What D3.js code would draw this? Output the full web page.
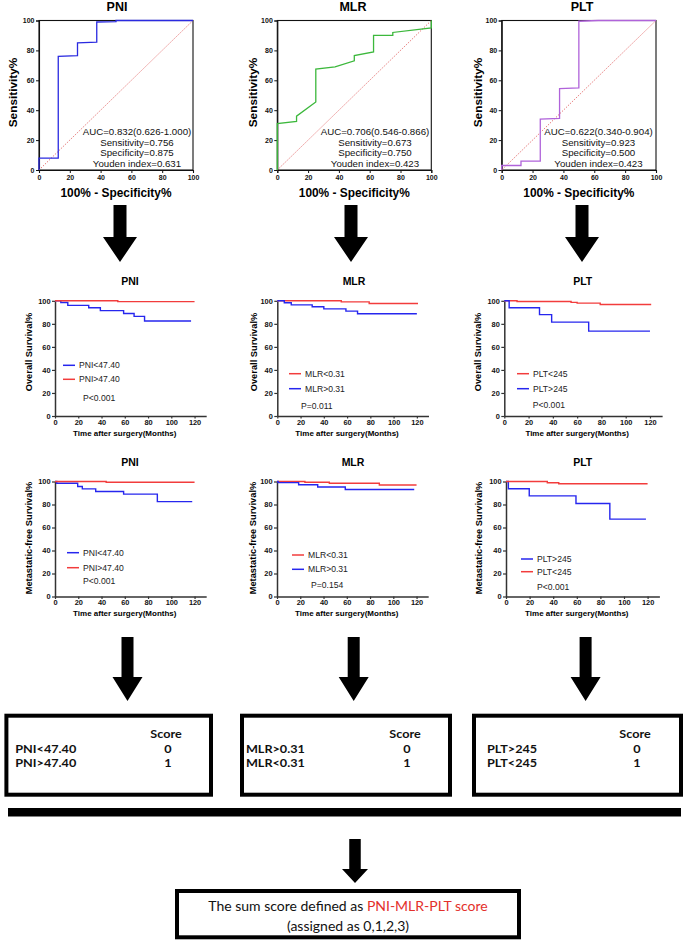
<!DOCTYPE html>
<html><head><meta charset="utf-8">
<script src="https://cdn.jsdelivr.net/npm/d3@7"></script>
<style>body{margin:0;background:#fff}svg{display:block}</style>
</head><body>
<script>
// ---------------- DATA ----------------
const markers = ["PNI", "MLR", "PLT"];
const rocTicks = [0, 20, 40, 60, 80, 100];
const rocPNI = [[0,0],[0,8],[12.5,8],[12.5,76],[25,76.5],[25,85],[37.5,85.5],[37.5,99],[50,99.3],[50,100],[100,100]];
const rocMLR = [[0,0],[0,31],[12.5,32.5],[12.5,36],[25,45.5],[25,67.5],[37.5,69],[50,73],[50,76.5],[62.5,79],[62.5,90],[75,90],[75,92],[100,95],[100,100]];
const rocPLT = [[0,0],[0,3],[12.5,3],[12.5,6],[25,6],[25,34],[37.5,34.5],[37.5,54.5],[50,55],[50,99.5],[62.5,100],[100,100]];
const rocStatsPNI = ["AUC=0.832(0.626-1.000)", "Sensitivity=0.756", "Specificity=0.875", "Youden index=0.631"];
const rocStatsMLR = ["AUC=0.706(0.546-0.866)", "Sensitivity=0.673", "Specificity=0.750", "Youden index=0.423"];
const rocStatsPLT = ["AUC=0.622(0.340-0.904)", "Sensitivity=0.923", "Specificity=0.500", "Youden index=0.423"];

const kmTicksX = [0, 20, 40, 60, 80, 100, 120];
const kmTicksY = [0, 20, 40, 60, 80, 100];
// Overall survival (time in months, survival %)
const osPNIlow  = [[0,100],[5,98.5],[11,96],[29,94],[39,91.5],[59,89],[68,86.5],[77,82.5],[117,82.5]];
const osPNIhigh = [[0,100],[54,99.3],[120,99.3]];
const osMLRlow  = [[0,100],[55,99.1],[79,97.7],[121,97.7]];
const osMLRhigh = [[0,100],[6,98.3],[12,96.5],[30,94.8],[40,93],[59,91],[69,88.8],[120,88.8]];
const osPLTlow  = [[0,100],[10.5,99.4],[55,98.6],[60,98],[79,96.8],[121,96.8]];
const osPLThigh = [[0,100],[4,94],[29,88],[39,81.5],[69.5,73.7],[120,73.7]];
// Metastatic-free survival
const mfsPNIlow  = [[0,100],[1.5,98.5],[19.5,95.6],[23.5,93.6],[35,91.3],[59,89],[88,82.5],[118,82.5]];
const mfsPNIhigh = [[0,100],[44,99.4],[120,99.4]];
const mfsMLRlow  = [[0,100],[24,99.4],[45,98.5],[88,97],[120,97]];
const mfsMLRhigh = [[0,100],[1,99],[18.6,97.2],[35,95.2],[58.7,93.1],[118,93.1]];
const mfsPLTlow  = [[0,100],[35,98.9],[44.7,98],[120,98]];
const mfsPLThigh = [[0,100],[2,93.7],[19.7,87.5],[59.3,80.9],[88,67.3],[118.6,67.3]];

const osLegendPNI = ["PNI<47.40", "PNI>47.40"];
const osLegendMLR = ["MLR<0.31", "MLR>0.31"];
const osLegendPLT = ["PLT<245", "PLT>245"];
const mfsLegendPNI = ["PNI<47.40", "PNI>47.40"];
const mfsLegendMLR = ["MLR<0.31", "MLR>0.31"];
const mfsLegendPLT = ["PLT>245", "PLT<245"];
const osPvalues = ["P<0.001", "P=0.011", "P<0.001"];
const mfsPvalues = ["P<0.001", "P=0.154", "P<0.001"];

const scoreRowsPNI = ["PNI<47.40", "PNI>47.40"];
const scoreRowsMLR = ["MLR>0.31", "MLR<0.31"];
const scoreRowsPLT = ["PLT>245", "PLT<245"];
const scoreValues = ["0", "1"];

// ---------------- DRAWING ----------------
const W = 685, H = 943;
const svg = d3.select("body").append("svg").attr("width", W).attr("height", H);
const FONT = "'Liberation Sans', Arial, sans-serif";
const BLUE = "#2626ee", RED = "#f23c3c";

// ROC panels
const rocLayout = [
  {x0: 39, x1: 193, title: 117, ylab: 13, stat: 137, data: rocPNI, color: "#2a2ae0", stats: rocStatsPNI},
  {x0: 277.3, x1: 431.3, title: 353, ylab: 253, stat: 375, data: rocMLR, color: "#3cb83c", stats: rocStatsMLR},
  {x0: 501.7, x1: 656, title: 582, ylab: 477.7, stat: 598.5, data: rocPLT, color: "#b063da", stats: rocStatsPLT}
];
rocLayout.forEach((p, i) => {
  const x = d3.scaleLinear().domain([0, 100]).range([p.x0, p.x1]);
  const y = d3.scaleLinear().domain([0, 100]).range([170, 20.5]);
  const g = svg.append("g");
  g.append("rect").attr("x", p.x0).attr("y", 20.5).attr("width", p.x1 - p.x0).attr("height", 149.5)
    .attr("fill", "none").attr("stroke", "#111").attr("stroke-width", 1.1);
  const ax = g.append("g").attr("transform", `translate(0,170)`)
    .call(d3.axisBottom(x).tickValues(rocTicks).tickSize(3).tickPadding(2));
  const ay = g.append("g").attr("transform", `translate(${p.x0},0)`)
    .call(d3.axisLeft(y).tickValues(rocTicks).tickSize(3).tickPadding(1.5));
  [ax, ay].forEach(a => {
    a.select(".domain").attr("stroke", "#111").attr("stroke-width", 1.1);
    a.selectAll("line").attr("stroke", "#111");
    a.selectAll("text").attr("font-family", FONT).attr("font-size", 7).attr("font-weight", "bold").attr("fill", "#111");
  });
  g.append("line").attr("x1", x(0)).attr("y1", y(0)).attr("x2", x(100)).attr("y2", y(100))
    .attr("stroke", "#e26a6a").attr("stroke-width", 0.9).attr("stroke-dasharray", "1.4,1.4");
  g.append("path").datum(p.data)
    .attr("d", d3.line().x(d => x(d[0])).y(d => y(d[1])))
    .attr("fill", "none").attr("stroke", p.color).attr("stroke-width", 1.3);
  g.append("text").attr("x", p.title).attr("y", 11).attr("text-anchor", "middle")
    .attr("font-family", FONT).attr("font-weight", "bold").attr("font-size", 12.5).text(markers[i]);
  g.append("text").attr("transform", `translate(${p.ylab + 4},92.5) rotate(-90)`).attr("text-anchor", "middle")
    .attr("font-family", FONT).attr("font-weight", "bold").attr("font-size", 11.8).text("Sensitivity%");
  g.append("text").attr("x", (p.x0 + p.x1) / 2).attr("y", 197).attr("text-anchor", "middle")
    .attr("font-family", FONT).attr("font-weight", "bold").attr("font-size", 11.9).text("100% - Specificity%");
  p.stats.forEach((s, j) => {
    g.append("text").attr("x", p.stat).attr("y", 135 + j * 10.6).attr("text-anchor", "middle")
      .attr("font-family", FONT).attr("font-size", 9.7).attr("fill", "#111").text(s);
  });
});

// Arrows
function arrow(cx, top, headTop, tip, shaftW, headW) {
  const pts = [[cx - shaftW/2, top], [cx + shaftW/2, top], [cx + shaftW/2, headTop], [cx + headW/2, headTop],
               [cx, tip], [cx - headW/2, headTop], [cx - shaftW/2, headTop]];
  svg.append("path").attr("d", d3.line()(pts) + "Z").attr("fill", "#000");
}
[120, 351, 582].forEach(cx => arrow(cx, 205, 237, 262, 13, 34));
[127.5, 353.7, 585.6].forEach(cx => arrow(cx, 637, 677, 701, 12, 30));
arrow(355, 839, 869, 883, 11.5, 26);

// KM panels
const kmRows = [
  {yTop: 300.8, yBot: 416, titleY: 285, ylabel: "Overall Survival%", ylabY: 352,
   panels: [
     {x0: 55, pxm: 1.163, title: 130, ylab: 28, series: [[osPNIlow, BLUE], [osPNIhigh, RED]],
      legend: osLegendPNI, legColors: [BLUE, RED], legX: 63, legY: [365.3, 379.3], pX: 83, pY: 401, p: osPvalues[0]},
     {x0: 277.3, pxm: 1.163, title: 354, ylab: 253, series: [[osMLRlow, RED], [osMLRhigh, BLUE]],
      legend: osLegendMLR, legColors: [RED, BLUE], legX: 289, legY: [373.7, 388.7], pX: 301, pY: 409, p: osPvalues[1]},
     {x0: 504.3, pxm: 1.214, title: 582.7, ylab: 477, series: [[osPLTlow, RED], [osPLThigh, BLUE]],
      legend: osLegendPLT, legColors: [RED, BLUE], legX: 517, legY: [373.7, 388.7], pX: 532.7, pY: 408, p: osPvalues[2]}
   ]},
  {yTop: 481.5, yBot: 596.5, titleY: 465.5, ylabel: "Metastatic-free Survival%", ylabY: 538,
   panels: [
     {x0: 55, pxm: 1.163, title: 130, ylab: 28, series: [[mfsPNIlow, BLUE], [mfsPNIhigh, RED]],
      legend: mfsLegendPNI, legColors: [BLUE, RED], legX: 67, legY: [552.7, 567.7], pX: 83, pY: 584, p: mfsPvalues[0]},
     {x0: 277, pxm: 1.163, title: 353, ylab: 252, series: [[mfsMLRlow, RED], [mfsMLRhigh, BLUE]],
      legend: mfsLegendMLR, legColors: [RED, BLUE], legX: 292, legY: [555, 569.3], pX: 311, pY: 588, p: mfsPvalues[1]},
     {x0: 506, pxm: 1.18, title: 582.7, ylab: 478, series: [[mfsPLThigh, BLUE], [mfsPLTlow, RED]],
      legend: mfsLegendPLT, legColors: [BLUE, RED], legX: 521, legY: [559, 571.7], pX: 537, pY: 590, p: mfsPvalues[2]}
   ]}
];
kmRows.forEach(row => {
  row.panels.forEach((p, i) => {
    const x = d3.scaleLinear().domain([0, 130]).range([p.x0, p.x0 + 130 * p.pxm]);
    const y = d3.scaleLinear().domain([0, 100]).range([row.yBot, row.yTop]);
    const g = svg.append("g");
    const ax = g.append("g").attr("transform", `translate(0,${row.yBot})`)
      .call(d3.axisBottom(x).tickValues(kmTicksX).tickSize(2.5).tickPadding(1).tickSizeOuter(0));
    const ay = g.append("g").attr("transform", `translate(${p.x0},0)`)
      .call(d3.axisLeft(y).tickValues(kmTicksY).tickSize(3).tickPadding(1.5).tickSizeOuter(0));
    [ax, ay].forEach(a => {
      a.select(".domain").attr("stroke", "#333").attr("stroke-width", 1.5);
      a.selectAll("line").attr("stroke", "#333").attr("stroke-width", 1.2);
      a.selectAll("text").attr("font-family", FONT).attr("font-size", 7.4).attr("font-weight", "bold").attr("fill", "#111");
    });
    p.series.forEach(([d, c]) => {
      g.append("path").datum(d)
        .attr("d", d3.line().curve(d3.curveStepAfter).x(v => x(v[0])).y(v => y(v[1])))
        .attr("fill", "none").attr("stroke", c).attr("stroke-width", 1.4);
    });
    g.append("text").attr("x", p.title).attr("y", row.titleY).attr("text-anchor", "middle")
      .attr("font-family", FONT).attr("font-weight", "bold").attr("font-size", 10.5).text(markers[i]);
    g.append("text").attr("transform", `translate(${p.ylab + 3.5},${row.ylabY}) rotate(-90)`).attr("text-anchor", "middle")
      .attr("font-family", FONT).attr("font-weight", "bold").attr("font-size", 9.3).text(row.ylabel);
    g.append("text").attr("x", x(60)).attr("y", row.yBot + 19.5).attr("text-anchor", "middle")
      .attr("font-family", FONT).attr("font-weight", "bold").attr("font-size", 8).text("Time after surgery(Months)");
    p.legend.forEach((lab, j) => {
      g.append("line").attr("x1", p.legX).attr("x2", p.legX + 12).attr("y1", p.legY[j]).attr("y2", p.legY[j])
        .attr("stroke", p.legColors[j]).attr("stroke-width", 1.5);
      g.append("text").attr("x", p.legX + 16).attr("y", p.legY[j] + 3).attr("font-family", FONT)
        .attr("font-size", 8.6).attr("fill", "#222").text(lab);
    });
    g.append("text").attr("x", p.pX).attr("y", p.pY).attr("font-family", FONT)
      .attr("font-size", 8.6).attr("fill", "#222").text(p.p);
  });
});

// Score boxes
const BOXFONT = "Lato, 'Open Sans', sans-serif";
const BF = 10.8, SX = 1.17;
function boxText(x, y, txt, anchor) {
  svg.append("text").attr("transform", `translate(${x},${y}) scale(${SX},1)`)
    .attr("text-anchor", anchor).attr("font-family", BOXFONT).attr("font-weight", "bold")
    .attr("font-size", BF).attr("fill", "#111").text(txt);
}
const boxes = [
  {x0: 4.4, x1: 213, textX: 15.3, valX: 166, rows: scoreRowsPNI},
  {x0: 240, x1: 452, textX: 245.9, valX: 405, rows: scoreRowsMLR},
  {x0: 472, x1: 683, textX: 487, valX: 635, rows: scoreRowsPLT}
];
boxes.forEach(b => {
  svg.append("rect").attr("x", b.x0 + 2).attr("y", 713.7 + 2).attr("width", b.x1 - b.x0 - 4).attr("height", 83 - 4)
    .attr("fill", "#fff").attr("stroke", "#000").attr("stroke-width", 4);
  boxText(b.valX, 737.5, "Score", "middle");
  b.rows.forEach((r, j) => {
    boxText(b.textX, 753.3 + j * 13.4, r, "start");
    boxText(b.valX + 2, 753.3 + j * 13.4, scoreValues[j], "middle");
  });
});

// Separator line
svg.append("rect").attr("x", 8).attr("y", 808).attr("width", 673).attr("height", 8.5).attr("fill", "#000");

// Final box
svg.append("rect").attr("x", 177).attr("y", 891).attr("width", 342).attr("height", 46.3)
  .attr("fill", "#fff").attr("stroke", "#000").attr("stroke-width", 4);
const t1 = svg.append("text").attr("x", 348).attr("y", 911).attr("text-anchor", "middle")
  .attr("font-family", BOXFONT).attr("font-size", 14);
t1.append("tspan").attr("fill", "#111").text("The sum score defined as ");
t1.append("tspan").attr("fill", "#e3302b").text("PNI-MLR-PLT score");
svg.append("text").attr("x", 348).attr("y", 931).attr("text-anchor", "middle")
  .attr("font-family", BOXFONT).attr("font-size", 14).attr("fill", "#111").text("(assigned as 0,1,2,3)");
</script>
</body></html>
